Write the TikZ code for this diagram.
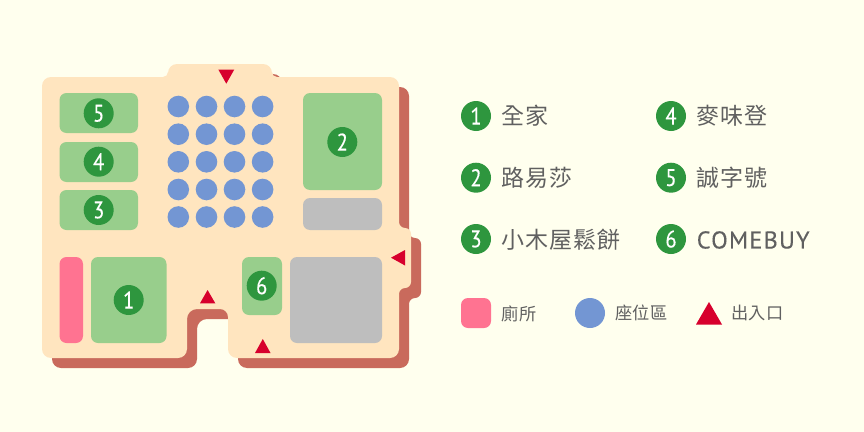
\documentclass[tikz,border=0pt]{standalone}
\usepackage{fontspec}
\newfontfamily\cjkB[LetterSpace=4]{Noto Sans CJK TC}
\newfontfamily\cjkS[LetterSpace=2]{Noto Sans CJK TC}
\newfontfamily\din[FakeStretch=0.86,FakeBold=0.25]{PT Sans}
\newfontfamily\dinS[LetterSpace=5,FakeBold=0.2]{PT Sans}
\definecolor{bgc}{HTML}{FFFFEE}
\definecolor{floorc}{HTML}{FFE5BF}
\definecolor{shadowc}{HTML}{C96A5C}
\definecolor{greenc}{HTML}{98CE8C}
\definecolor{badgec}{HTML}{2E963E}
\definecolor{bluec}{HTML}{7396D3}
\definecolor{pinkc}{HTML}{FF7391}
\definecolor{greyc}{HTML}{BEBEBE}
\definecolor{redc}{HTML}{D7002D}
\definecolor{textc}{HTML}{606060}
\tikzset{
  shop/.style={fill=greenc,rounded corners=5.25pt},
  grey box/.style={fill=greyc,rounded corners=5.25pt},
  wc/.style={fill=pinkc,rounded corners=5.25pt},
  exit/.style={fill=redc},
  badge/.style={circle,fill=badgec,minimum size=22.5pt,inner sep=0pt,text=white,font=\din\fontsize{18}{18}\selectfont},
  seat/.style={circle,fill=bluec,minimum size=16.2pt,inner sep=0pt},
  bigseat/.style={circle,fill=bluec,minimum size=22.5pt,inner sep=0pt},
  big label/.style={anchor=west,inner sep=0pt,text=textc,font=\cjkB\fontsize{17.25}{18}\selectfont},
  latin label/.style={anchor=west,inner sep=0pt,text=textc,font=\dinS\fontsize{18.2}{18}\selectfont},
  small label/.style={anchor=west,inner sep=0pt,text=textc,font=\cjkS\fontsize{12.9}{14}\selectfont},
}
% corner: from a through vertex v to b
\def\crn#1#2#3#4#5#6{-- (#1,#2) .. controls ({#1+.55*(#3-#1)},{#2+.55*(#4-#2)}) and ({#5+.55*(#3-#5)},{#6+.55*(#4-#6)}) .. (#5,#6)}
\def\floorpath{(51,77)
 \crn{163}{77}{168}{77}{168}{72}
 \crn{168}{73}{168}{64}{177}{64}
 \crn{263}{64}{272}{64}{272}{73}
 \crn{272}{72}{272}{77}{277}{77}
 \crn{390}{77}{399}{77}{399}{86}
 \crn{399}{222}{399}{228}{405}{228}
 \crn{405}{228}{411}{228}{411}{234}
 \crn{411}{282}{411}{288}{405}{288}
 \crn{405}{288}{399}{288}{399}{294}
 \crn{399}{349}{399}{358}{390}{358}
 \crn{237}{358}{228}{358}{228}{349}
 \crn{228}{317}{228}{309}{220}{309}
 \crn{197}{309}{187}{309}{187}{319}
 \crn{187}{349}{187}{358}{178}{358}
 \crn{51}{358}{42}{358}{42}{349}
 \crn{42}{86}{42}{77}{51}{77} -- cycle}
\begin{document}
\begin{tikzpicture}[x=0.75pt,y=-0.75pt]
\useasboundingbox (0,0) rectangle (864,432);
\fill[bgc] (0,0) rectangle (864,432);
\begin{scope}[shift={(10,10)}]
\fill[shadowc] \floorpath;
\end{scope}
\fill[floorc] \floorpath;
% rooms
\fill[shop] (59.5,93) rectangle (138,133);
\fill[shop] (59.5,142) rectangle (138,182);
\fill[shop] (59.5,190) rectangle (138,230);
\fill[shop] (303,93) rectangle (382,190);
\fill[grey box] (303,198) rectangle (382,230);
\fill[wc] (59.5,257) rectangle (83,343);
\fill[shop] (91,257) rectangle (166.5,343);
\fill[shop] (242,257) rectangle (282,315);
\fill[grey box] (290,257) rectangle (382,343);
% seats
\foreach \i/\x in {1/178.3,2/206.5,3/234.5,4/262.6}
  \foreach \j/\y in {1/106.5,2/134.2,3/161.8,4/189.5,5/217}
    \node[seat] (s\i\j) at (\x,\y) {};
% exits
\fill[exit] (218.3,69.5) -- (234.3,69.5) -- (226.3,83.7) -- cycle;
\fill[exit] (200,303.3) -- (215.3,303.3) -- (207.6,290) -- cycle;
\fill[exit] (255,353) -- (270.5,353) -- (262.8,339) -- cycle;
\fill[exit] (405,250) -- (405,265.5) -- (391,257.7) -- cycle;
% map badges
\node[badge] (m5) at (98.7,113.3) {5};
\node[badge] (m4) at (98.7,161.7) {4};
\node[badge] (m3) at (98.7,210) {3};
\node[badge] (m2) at (342.3,142) {2};
\node[badge] (m1) at (128.7,300) {1};
\node[badge] (m6) at (261.7,285.7) {6};
% legend
\node[badge] (l1) at (476,116) {1};
\node[badge] (l2) at (476,177.7) {2};
\node[badge] (l3) at (476,239) {3};
\node[badge] (l4) at (671,116) {4};
\node[badge] (l5) at (671,177.7) {5};
\node[badge] (l6) at (671,239) {6};
\node[big label] (t1) at (501.5,116) {全家};
\node[big label] (t2) at (501.5,178) {路易莎};
\node[big label] (t3) at (501.5,240) {小木屋鬆餅};
\node[big label] (t4) at (696.5,116) {麥味登};
\node[big label] (t5) at (696.5,178) {誠字號};
\node[latin label] (t6) at (696.5,240) {COMEBUY};
\fill[wc] (461,298) rectangle (491,328);
\node[bigseat] (ls) at (590,313) {};
\fill[exit] (696,324.5) -- (722,324.5) -- (709,302) -- cycle;
\node[small label] (t7) at (501.5,313.5) {廁所};
\node[small label] (t8) at (615,313) {座位區};
\node[small label] (t9) at (731,313) {出入口};
\end{tikzpicture}
\end{document}
